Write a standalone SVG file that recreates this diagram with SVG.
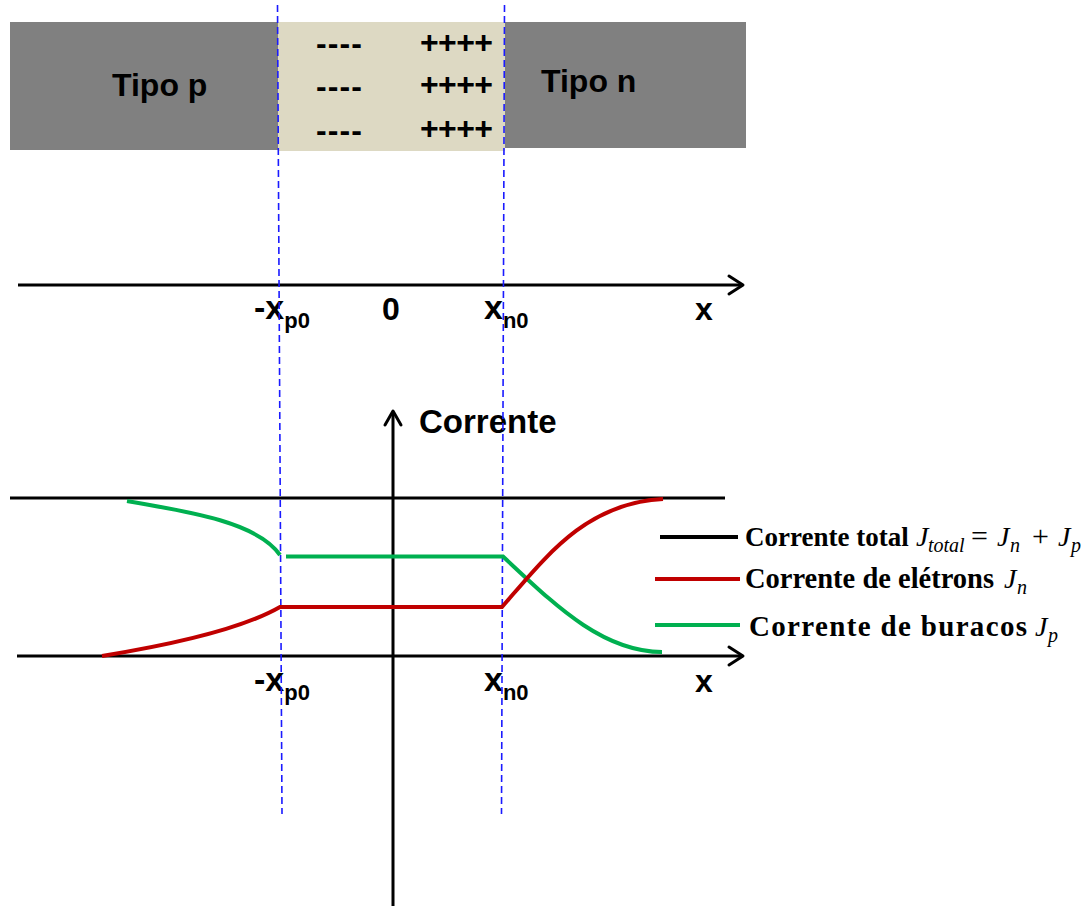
<svg xmlns="http://www.w3.org/2000/svg" width="1088" height="906" viewBox="0 0 1088 906">
  <style>
    .axis { stroke: #000; stroke-width: 3; fill: none; }
    .head { stroke: #000; stroke-width: 3; fill: none; stroke-linecap: round; stroke-linejoin: round; }
    .guide { stroke: #1a1aff; stroke-width: 1.6; stroke-dasharray: 7 4; fill: none; }
    .jn { stroke: #c00000; stroke-width: 4; fill: none; }
    .jp { stroke: #00b050; stroke-width: 4; fill: none; }
    .region { font-family: "Liberation Sans", Arial, sans-serif; font-weight: bold; font-size: 32px; fill: #000; }
    .charge { font-family: "Liberation Sans", Arial, sans-serif; font-weight: bold; font-size: 32px; fill: #000; }
    .lbl { font-family: "Liberation Sans", Arial, sans-serif; font-weight: bold; fill: #000; }
    .leg { font-family: "Liberation Serif", "Times New Roman", serif; font-weight: bold; fill: #000; }
    .math { font-family: "Liberation Serif", "Times New Roman", serif; font-style: italic; font-size: 28px; fill: #000; }
    .sub { font-family: "Liberation Serif", "Times New Roman", serif; font-style: italic; font-size: 20px; fill: #000; }
    .op { font-family: "Liberation Serif", "Times New Roman", serif; font-size: 30px; fill: #000; }
  </style>

  <!-- p-n junction bar -->
  <g id="junction-bar">
    <rect x="10" y="22" width="268" height="128" fill="#808080"/>
    <rect x="278" y="22" width="227" height="129" fill="#ddd9c3"/>
    <rect x="505" y="22" width="241" height="126" fill="#808080"/>
    <text class="region" x="112" y="96">Tipo p</text>
    <text class="region" x="541" y="92">Tipo n</text>
    <text class="charge" x="316" y="54" textLength="46">----</text>
    <text class="charge" x="316" y="97" textLength="46">----</text>
    <text class="charge" x="316" y="141" textLength="46">----</text>
    <text class="charge" x="420" y="53" textLength="73">++++</text>
    <text class="charge" x="420" y="95" textLength="73">++++</text>
    <text class="charge" x="420" y="139" textLength="73">++++</text>
  </g>

  <!-- position axis -->
  <g id="axis-position">
    <line class="axis" x1="18" y1="285" x2="743" y2="285"/>
    <polyline class="head" points="729,276 743,285 729,294"/>
    <text class="lbl" x="254" y="319" font-size="34">-x<tspan font-size="22" dy="9">p0</tspan></text>
    <text class="lbl" x="382" y="320" font-size="32">0</text>
    <text class="lbl" x="484" y="319" font-size="34">x<tspan font-size="22" dy="9">n0</tspan></text>
    <text class="lbl" x="695" y="320" font-size="32">x</text>
  </g>

  <!-- current axes -->
  <g id="axis-current">
    <line class="axis" x1="393" y1="906" x2="393" y2="412"/>
    <polyline class="head" points="385,425 393,411 401,425"/>
    <text class="lbl" x="419" y="433" font-size="33">Corrente</text>
    <line class="axis" x1="10" y1="498" x2="725" y2="498"/>
    <line class="axis" x1="17" y1="656" x2="743" y2="656"/>
    <polyline class="head" points="729,647 743,656 729,665"/>
    <text class="lbl" x="254" y="691" font-size="34">-x<tspan font-size="22" dy="9">p0</tspan></text>
    <text class="lbl" x="484" y="691" font-size="34">x<tspan font-size="22" dy="9">n0</tspan></text>
    <text class="lbl" x="695" y="692" font-size="32">x</text>
  </g>

  <!-- depletion edges -->
  <g id="guides">
    <line class="guide" x1="277.5" y1="5" x2="282" y2="814"/>
    <line class="guide" x1="504.5" y1="5" x2="501.5" y2="814"/>
  </g>

  <!-- current densities -->
  <g id="curves">
    <path class="jp" d="M127,501 C192,512 258,523 280,555"/>
    <path class="jp" d="M286,556.5 L503,556.5 C550,600 600,652 662,652"/>
    <path class="jn" d="M102,656 C170,645 240,630 280,607 L502,607 C545,558 585,503 663,499"/>
  </g>

  <!-- legend -->
  <g id="legend">
    <line x1="660" y1="537" x2="738" y2="537" stroke="#000" stroke-width="4"/>
    <text class="leg" x="745" y="546" font-size="27">Corrente total</text>
    <text class="math" x="916" y="546">J</text>
    <text class="sub" x="928" y="552">total</text>
    <text class="op" x="971" y="546">=</text>
    <text class="math" x="997" y="546">J</text>
    <text class="sub" x="1010" y="552">n</text>
    <text class="op" x="1032" y="546">+</text>
    <text class="math" x="1058" y="546">J</text>
    <text class="sub" x="1071" y="552">p</text>

    <line x1="655" y1="579" x2="740" y2="579" stroke="#c00000" stroke-width="4"/>
    <text class="leg" x="745" y="588" font-size="28.5">Corrente de elétrons</text>
    <text class="math" x="1004" y="588">J</text>
    <text class="sub" x="1017" y="594">n</text>

    <line x1="655" y1="625" x2="740" y2="625" stroke="#00b050" stroke-width="4"/>
    <text class="leg" x="749" y="636" font-size="29" textLength="278">Corrente de buracos</text>
    <text class="math" x="1035" y="636">J</text>
    <text class="sub" x="1048" y="642">p</text>
  </g>
</svg>
